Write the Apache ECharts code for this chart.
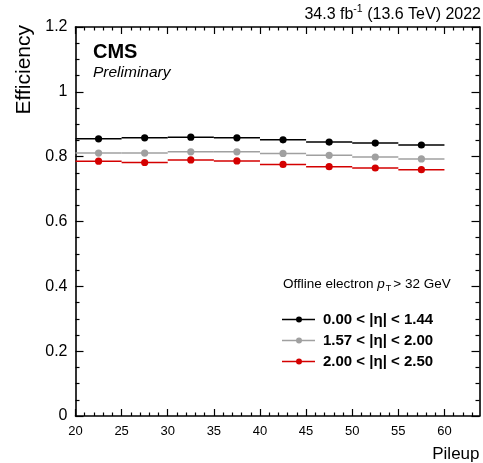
<!DOCTYPE html>
<html>
<head>
<meta charset="utf-8">
<script src="https://cdn.jsdelivr.net/npm/echarts@6/dist/echarts.min.js"></script>
<style>
html,body{margin:0;padding:0;background:#fff;}
#chart{width:483px;height:463px;}
</style>
</head>
<body>
<div id="chart"></div>
<script>
// ---- data ----
const binEdges = [20, 25, 30, 35, 40, 45, 50, 55, 60];
const binCenters = [22.5, 27.5, 32.5, 37.5, 42.5, 47.5, 52.5, 57.5];
const seriesNames = ['0.00 < |η| < 1.44', '1.57 < |η| < 2.00', '2.00 < |η| < 2.50'];
const effBarrel = [0.855, 0.858, 0.860, 0.858, 0.852, 0.845, 0.842, 0.836];
const effEndcap1 = [0.811, 0.811, 0.815, 0.815, 0.810, 0.804, 0.799, 0.793];
const effEndcap2 = [0.786, 0.782, 0.790, 0.787, 0.776, 0.769, 0.765, 0.760];
const xMajorTicks = [20, 25, 30, 35, 40, 45, 50, 55, 60];
const xMinorTicks = [21,22,23,24,26,27,28,29,31,32,33,34,36,37,38,39,41,42,43,44,46,47,48,49,51,52,53,54,56,57,58,59,61,62,63];

const seriesValues = [effBarrel, effEndcap1, effEndcap2];
const colors = ['#000000', '#a0a0a0', '#d40000'];
const FONT = '"Liberation Sans", Arial, Helvetica, sans-serif';

const chart = echarts.init(document.getElementById('chart'), null, {renderer: 'canvas'});

function buildData(vals) {
  return vals.map((v, i) => [binEdges[i], binEdges[i + 1], binCenters[i], v]);
}

function renderItem(params, api) {
  const lo = api.value(0), hi = api.value(1), c = api.value(2), v = api.value(3);
  const p1 = api.coord([lo, v]), p2 = api.coord([hi, v]), pc = api.coord([c, v]);
  const color = api.visual('color');
  return {
    type: 'group',
    children: [
      {type: 'line', shape: {x1: p1[0], y1: p1[1], x2: p2[0], y2: p2[1]}, style: {stroke: color, lineWidth: 1.5}},
      {type: 'circle', shape: {cx: pc[0], cy: pc[1], r: 3.6}, style: {fill: color}}
    ]
  };
}

const xBase = {type: 'value', min: 20, max: 63.8, interval: 5, splitLine: {show: false}};
const yBase = {type: 'value', min: 0, max: 1.2, interval: 0.2, splitLine: {show: false}};
const tickStyle = {color: '#000', width: 1.2};

const legendIcon = 'path://M0,3.3 H33 V4.7 H0 Z M14,4 A3,3 0 1,1 20,4 A3,3 0 1,1 14,4 Z';

const option = {
  animation: false,
  backgroundColor: '#ffffff',
  grid: {left: 75.5, top: 27, width: 404, height: 390, containLabel: false},
  xAxis: [
    Object.assign({}, xBase, {
      position: 'bottom',
      axisLine: {show: true, onZero: false, lineStyle: {color: '#000', width: 1.6}},
      axisTick: {show: true, inside: true, length: 7, customValues: xMajorTicks, lineStyle: tickStyle},
      axisLabel: {show: true, customValues: xMajorTicks, margin: 9, color: '#000', fontSize: 13, fontFamily: FONT},
      name: 'Pileup', nameLocation: 'end', nameGap: 0,
      nameTextStyle: {fontSize: 17, fontFamily: FONT, color: '#000', align: 'right', verticalAlign: 'top', padding: [30, 0, 0, 0]}
    }),
    Object.assign({}, xBase, {
      position: 'bottom',
      axisLine: {show: false, onZero: false},
      axisTick: {show: true, inside: true, length: 3.5, customValues: xMinorTicks, lineStyle: tickStyle},
      axisLabel: {show: false}
    }),
    Object.assign({}, xBase, {
      position: 'top',
      axisLine: {show: true, onZero: false, lineStyle: {color: '#000', width: 1.6}},
      axisTick: {show: true, inside: true, length: 7, customValues: xMajorTicks, lineStyle: tickStyle},
      axisLabel: {show: false}
    }),
    Object.assign({}, xBase, {
      position: 'top',
      axisLine: {show: false, onZero: false},
      axisTick: {show: true, inside: true, length: 3.5, customValues: xMinorTicks, lineStyle: tickStyle},
      axisLabel: {show: false}
    })
  ],
  yAxis: [
    Object.assign({}, yBase, {
      position: 'left',
      axisLine: {show: true, onZero: false, lineStyle: {color: '#000', width: 1.6}},
      axisTick: {show: true, inside: true, length: 8, lineStyle: tickStyle},
      minorTick: {show: true, splitNumber: 4, length: 4, lineStyle: tickStyle},
      axisLabel: {show: true, margin: 8, color: '#000', fontSize: 16, fontFamily: FONT}
    }),
    Object.assign({}, yBase, {
      position: 'right',
      axisLine: {show: true, onZero: false, lineStyle: {color: '#000', width: 1.6}},
      axisTick: {show: true, inside: true, length: 8, lineStyle: tickStyle},
      minorTick: {show: true, splitNumber: 4, length: 4, lineStyle: tickStyle},
      axisLabel: {show: false}
    })
  ],
  legend: {
    left: 282, top: 312, orient: 'vertical', padding: 0,
    itemWidth: 33, itemHeight: 8, itemGap: 6,
    icon: legendIcon,
    data: seriesNames,
    textStyle: {fontSize: 15, fontWeight: 'bold', fontFamily: FONT, color: '#000', lineHeight: 14, padding: [0, 0, 0, 3]}
  },
  graphic: [
    {type: 'text', right: 2, top: 4, style: {
      text: '{a|34.3 fb}{s|-1}{a| (13.6 TeV) 2022}',
      rich: {a: {fontSize: 16, fontFamily: FONT, fill: '#000', verticalAlign: 'bottom', lineHeight: 19},
             s: {fontSize: 10.5, fontFamily: FONT, fill: '#000', verticalAlign: 'top', lineHeight: 19}}
    }},
    {type: 'text', x: 93, y: 52, style: {text: 'CMS', font: 'bold 20px ' + FONT, fill: '#000', verticalAlign: 'middle'}},
    {type: 'text', x: 93, y: 73, style: {text: 'Preliminary', font: 'italic 15.5px ' + FONT, fill: '#000', verticalAlign: 'middle'}},
    {type: 'text', x: 24, y: 25, rotation: Math.PI / 2, style: {text: 'Efficiency', font: '21px ' + FONT, fill: '#000', align: 'right', verticalAlign: 'middle'}},
    {type: 'text', left: 283, top: 277, style: {
      text: '{n|Offline electron }{i|p}{t|T}{n|> 32 GeV}',
      rich: {n: {fontSize: 13.5, fontFamily: FONT, fill: '#000', lineHeight: 16, verticalAlign: 'top'},
             i: {fontSize: 13.5, fontFamily: FONT, fontStyle: 'italic', fill: '#000', lineHeight: 16, verticalAlign: 'top'},
             t: {fontSize: 9, fontFamily: FONT, fill: '#000', lineHeight: 16, verticalAlign: 'bottom', padding: [0, 2, 0, 1]}}
    }}
  ],
  series: seriesValues.map((vals, k) => ({
    name: seriesNames[k],
    type: 'custom',
    xAxisIndex: 0, yAxisIndex: 0,
    renderItem: renderItem,
    itemStyle: {color: colors[k]},
    encode: {x: [0, 1, 2], y: 3},
    data: buildData(vals),
    z: 10 - k
  }))
};

chart.setOption(option);
</script>
</body>
</html>
